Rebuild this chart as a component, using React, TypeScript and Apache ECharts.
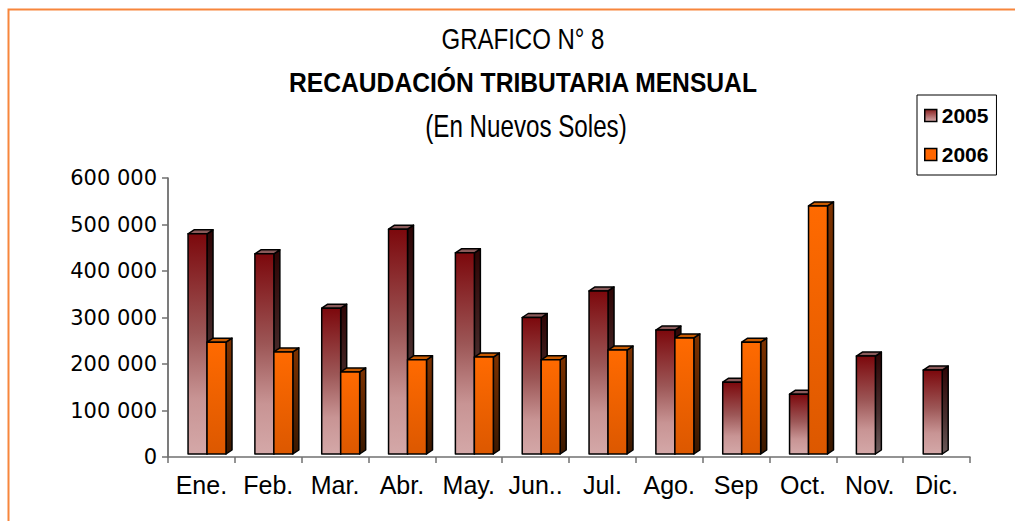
import React, { useEffect, useRef } from "react";
import * as echarts from "echarts";

const months = ["Ene.", "Feb.", "Mar.", "Abr.", "May.", "Jun..", "Jul.", "Ago.", "Sep", "Oct.", "Nov.", "Dic."];
const values2005 = [480000, 437000, 320000, 490000, 439000, 300000, 357000, 273000, 161000, 135000, 217000, 187000];
const values2006: (number | null)[] = [247000, 226000, 183000, 209000, 215000, 209000, 230000, 256000, 247000, 540000, null, null];
const yTicks = [0, 100000, 200000, 300000, 400000, 500000, 600000];

const FONT = "'Liberation Sans', Arial, sans-serif";
const WIDE = "'DejaVu Sans', sans-serif";

function grad(stops: [number, string][]) {
  return new echarts.graphic.LinearGradient(0, 0, 0, 1, stops.map(([offset, color]) => ({ offset, color })));
}

const palette = [
  {
    front: () => grad([[0, "#7c080c"], [0.45, "#9c5656"], [0.75, "#c89494"], [1, "#d4a8a8"]]),
    side: () => grad([[0, "#2e0404"], [0.6, "#4a3030"], [1, "#6a5a5a"]]),
    top: "#8a5a5a",
    legend: () => grad([[0, "#8a2020"], [1, "#d4a8a8"]]),
  },
  {
    front: () => grad([[0, "#ff6a00"], [1, "#dc5800"]]),
    side: () => grad([[0, "#7e3200"], [1, "#3a1800"]]),
    top: "#c85a00",
    legend: () => "#ff6600",
  },
];

function makeRender(s: number) {
  return (params: any, api: any) => {
    const idx = api.value(0);
    const v = api.value(1);
    if (v == null || isNaN(v)) return null;
    const top = api.coord([idx, v]);
    const base = api.coord([idx, 0]);
    const band = api.size([1, 0])[0];
    const fw = band * 0.284;
    const x0 = top[0] - band * 0.2 + s * fw;
    const yTop = top[1];
    const yBot = base[1] - 3;
    const dx = 6;
    const dy = -4;
    const stroke = { stroke: "#000", lineWidth: 1.5, lineJoin: "round" };
    return {
      type: "group",
      children: [
        {
          type: "polygon",
          shape: { points: [[x0 + fw, yTop], [x0 + fw + dx, yTop + dy], [x0 + fw + dx, yBot + dy], [x0 + fw, yBot]] },
          style: { fill: palette[s].side(), ...stroke },
        },
        {
          type: "polygon",
          shape: { points: [[x0, yTop], [x0 + dx, yTop + dy], [x0 + fw + dx, yTop + dy], [x0 + fw, yTop]] },
          style: { fill: palette[s].top, ...stroke },
        },
        {
          type: "rect",
          shape: { x: x0, y: yTop, width: fw, height: yBot - yTop },
          style: { fill: palette[s].front(), ...stroke },
        },
      ],
    };
  };
}

export default function App() {
  const ref = useRef<HTMLDivElement>(null);
  useEffect(() => {
    if (!ref.current) return;
    const chart = echarts.init(ref.current, undefined, { renderer: "svg" });
    chart.setOption({
      animation: false,
      backgroundColor: "#fff",
      textStyle: { fontFamily: FONT },
      graphic: [
        {
          type: "rect",
          shape: { x: 8.5, y: 9.5, width: 1200, height: 700 },
          style: { fill: "none", stroke: "#f7863c", lineWidth: 2 },
          silent: true,
        },
        {
          type: "text",
          x: 523, y: 39, scaleX: 0.8,
          style: { text: "GRAFICO N° 8", font: `30px ${FONT}`, fill: "#000", align: "center", verticalAlign: "middle" },
        },
        {
          type: "text",
          x: 523, y: 82, scaleX: 0.88,
          style: { text: "RECAUDACIÓN TRIBUTARIA MENSUAL", font: `bold 28px ${FONT}`, fill: "#000", align: "center", verticalAlign: "middle" },
        },
        {
          type: "text",
          x: 526, y: 126, scaleX: 0.78,
          style: { text: "(En Nuevos Soles)", font: `31px ${FONT}`, fill: "#000", align: "center", verticalAlign: "middle" },
        },
      ],
      legend: {
        orient: "vertical",
        left: 917,
        top: 95,
        padding: [10, 8, 10, 7],
        borderColor: "#000",
        borderWidth: 1,
        itemWidth: 12,
        itemHeight: 12,
        itemGap: 18,
        icon: "rect",
        textStyle: { fontSize: 21, fontWeight: "bold", color: "#000", fontFamily: FONT },
        data: [
          { name: "2005", itemStyle: { color: palette[0].legend(), borderColor: "#000", borderWidth: 1.5 } },
          { name: "2006", itemStyle: { color: palette[1].legend(), borderColor: "#000", borderWidth: 1.5 } },
        ],
      },
      grid: { left: 168, right: 45, top: 178, bottom: 64 },
      xAxis: {
        type: "category",
        data: months,
        boundaryGap: true,
        axisLine: { lineStyle: { color: "#707070", width: 1.5 } },
        axisTick: { show: true, length: 6, lineStyle: { color: "#707070", width: 1.5 } },
        axisLabel: { fontSize: 25, color: "#000", margin: 15, interval: 0, fontFamily: FONT },
      },
      yAxis: {
        type: "value",
        min: yTicks[0],
        max: yTicks[yTicks.length - 1],
        interval: 100000,
        splitLine: { show: false },
        axisLine: { show: true, lineStyle: { color: "#505050", width: 1.5 } },
        axisTick: { show: true, length: 6, lineStyle: { color: "#707070", width: 1.5 } },
        axisLabel: {
          fontSize: 21,
          color: "#000",
          margin: 11,
          fontFamily: WIDE,
          formatter: (v: number) => (v === 0 ? "0" : `${v / 1000} 000`),
        },
      },
      series: [
        {
          name: "2005",
          type: "custom",
          renderItem: makeRender(0),
          encode: { x: 0, y: 1 },
          itemStyle: { color: "#a05050" },
          data: values2005.map((v, i) => [i, v]),
        },
        {
          name: "2006",
          type: "custom",
          renderItem: makeRender(1),
          encode: { x: 0, y: 1 },
          itemStyle: { color: "#ff6600" },
          data: values2006.map((v, i) => [i, v == null ? "-" : v]),
        },
      ],
    });
    return () => chart.dispose();
  }, []);
  return <div ref={ref} style={{ position: "fixed", left: 0, top: 0, width: 1015, height: 521 }} />;
}
